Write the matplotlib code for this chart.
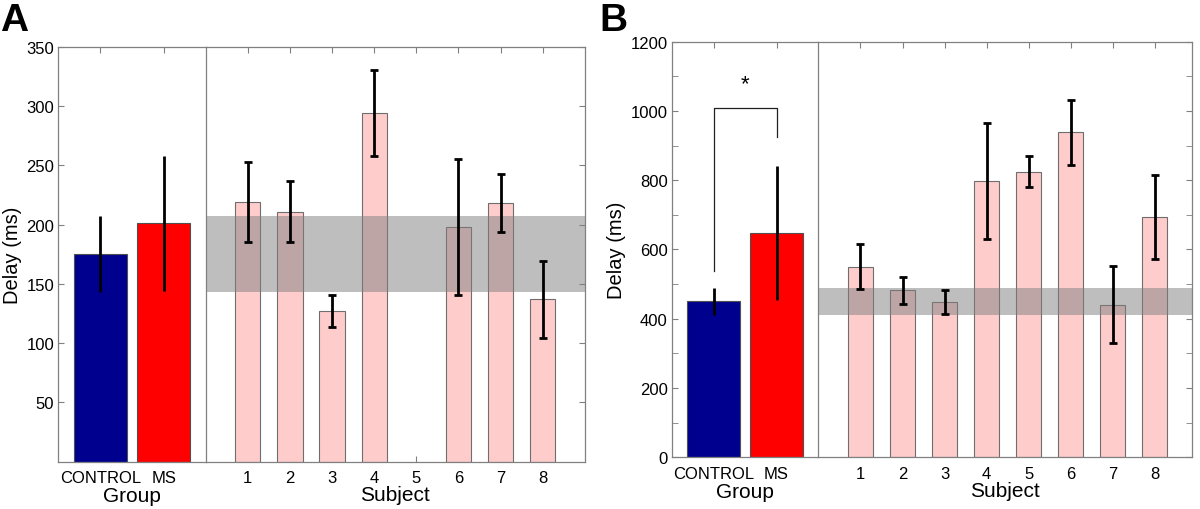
import matplotlib
matplotlib.use('Agg')
import numpy as np
import matplotlib.pyplot as plt
from matplotlib.ticker import MultipleLocator

plt.rcParams['font.family'] = ['Liberation Sans', 'DejaVu Sans']

groups = ["CONTROL", "MS"]
subjects = [1, 2, 3, 4, 5, 6, 7, 8]

# panel A
a_group_mean = [175, 201]
a_group_err = [32, 57]
a_subj_mean = [219, 211, 127, 294, np.nan, 198, 218, 137]
a_subj_err = [33.5, 25.5, 13.5, 36, np.nan, 57.5, 24.5, 32.5]

# panel B
b_group_mean = [450, 647]
b_group_err = [38.5, 194]
b_subj_mean = [550, 482, 449, 798, 824, 938, 440, 695]
b_subj_err = [64.5, 40, 34, 167.5, 45, 93.5, 111, 121.5]

NAVY = "#00008f"
RED = "#ff0000"
PINK = "#ffcccc"
SPINE = "#808080"


def style_axes(ax):
    for s in ax.spines.values():
        s.set_color(SPINE)
        s.set_linewidth(0.9)
    ax.tick_params(direction='in', length=4, color=SPINE, labelsize=12,
                   which='both')
    ax.tick_params(axis='x', pad=6)
    ax.tick_params(axis='y', pad=3)
    ax.set_axisbelow(True)


def draw_panel(gpos, spos, g_mean, g_err, s_mean, s_err, ylim, sub_xmax, letter, lx):
    fig = plt.gcf()
    axg = fig.add_axes(gpos)
    axs = fig.add_axes(spos, sharey=axg)
    style_axes(axg)
    style_axes(axs)
    axg.spines['right'].set_visible(False)

    # group bars
    gx = np.arange(1, len(groups) + 1)
    axg.bar(gx, g_mean, width=0.83, color=[NAVY, RED], edgecolor="#505050",
            linewidth=0.8, zorder=2)
    axg.errorbar(gx, g_mean, yerr=g_err, fmt='none', ecolor='black',
                 elinewidth=2, capsize=0, zorder=3)
    axg.set_xlim(0.335, 2.665)
    axg.set_xticks(gx)
    axg.set_xticklabels(groups)
    axg.tick_params(axis='x', top=True, bottom=True)
    axg.tick_params(axis='y', left=True, right=False)
    axg.set_ylim(*ylim)
    axg.set_xlabel("Group", fontsize=15, labelpad=1)
    axg.set_ylabel("Delay (ms)", fontsize=14.5, labelpad=3)

    # subject bars
    sx = np.array(subjects)
    axs.bar(sx, s_mean, width=0.6, color=PINK, edgecolor="#6e6e6e",
            linewidth=0.8, zorder=2)
    lo = g_mean[0] - g_err[0]
    hi = g_mean[0] + g_err[0]
    axs.axhspan(lo, hi, color="#7f7f7f", alpha=0.5, linewidth=0, zorder=2.5)
    axs.errorbar(sx, s_mean, yerr=s_err, fmt='none', ecolor='black',
                 elinewidth=2, capsize=3, capthick=2, zorder=3)
    axs.set_xlim(0, sub_xmax)
    axs.set_xticks(sx)
    axs.set_xticklabels([str(s) for s in subjects])
    axs.tick_params(axis='x', top=True, bottom=True)
    axs.tick_params(axis='y', left=False, right=True, labelleft=False,
                    which='both')
    axs.set_xlabel("Subject", fontsize=15, labelpad=0)

    fig.text(lx, 0.995, letter, fontsize=28, fontweight='bold',
             ha='left', va='top')
    return axg, axs


fig = plt.figure(figsize=(12, 5.1), dpi=100)

axg, axs = draw_panel([0.0486, 0.0927, 0.1228, 0.8138],
                      [0.1714, 0.0927, 0.3160, 0.8138],
                      a_group_mean, a_group_err, a_subj_mean, a_subj_err,
                      (0, 350), 9.0, "A", 0.0)
axg.set_yticks([50, 100, 150, 200, 250, 300, 350])

bxg, bxs = draw_panel([0.5598, 0.1014, 0.1222, 0.8149],
                      [0.6820, 0.1014, 0.3112, 0.8149],
                      b_group_mean, b_group_err, b_subj_mean, b_subj_err,
                      (0, 1200), 8.88, "B", 0.4995)
bxg.yaxis.set_major_locator(MultipleLocator(200))
bxg.yaxis.set_minor_locator(MultipleLocator(100))

# significance bracket between CONTROL and MS
bxg.plot([1, 1, 2, 2], [537, 1008, 1008, 924], color='#202020',
         linewidth=0.9, zorder=4)
bxg.text(1.5, 1080, "*", ha='center', va='center', fontsize=16)

plt.savefig("out.png", dpi=100)
plt.close()
